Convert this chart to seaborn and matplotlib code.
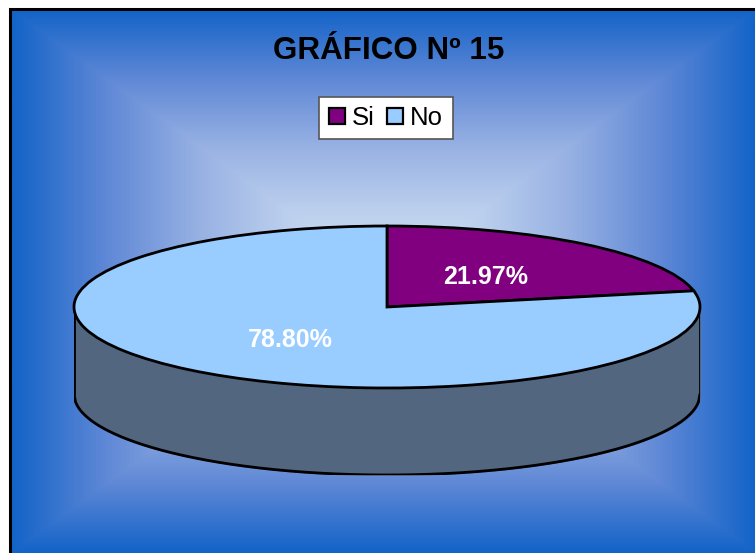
import matplotlib
matplotlib.use('Agg')
import matplotlib.pyplot as plt
import numpy as np
import seaborn as sns
from matplotlib.colors import LinearSegmentedColormap

# Data
labels = ['Si', 'No']
values = [21.97, 78.80]
pct_labels = ['21.97%', '78.80%']
colors = ['#800080', '#99CCFF']
title = 'GRÁFICO Nº 15'

W, H = 755, 553
sns.set_theme(style='white')
plt.rcParams['font.family'] = ['Liberation Sans', 'DejaVu Sans']

fig = plt.figure(figsize=(W / 100, H / 100), dpi=100, facecolor='white')

# Background with a rectangular gradient, pixel coordinates
bg = fig.add_axes([0, 0, 1, 1])
bg.set_xlim(0, W)
bg.set_ylim(H, 0)
bg.axis('off')
xx, yy = np.meshgrid(np.arange(11, W + 1), np.arange(10, H + 1))
t = np.maximum(np.abs(xx - 384) / 371, np.abs(yy - 281) / 271)
cmap = LinearSegmentedColormap.from_list(
    'back', sns.blend_palette(['#CFE0F4', '#BDD1EE', '#97B1E3', '#5F88D6', '#1464C8'], 256))
bg.imshow(t, extent=(11, W, H, 10), cmap=cmap, vmin=0, vmax=1, aspect='auto', zorder=0)
bg.plot([10, 10, W], [H, 9, 9], color='black', lw=2.2, zorder=1, solid_joinstyle='miter')
bg.set_xlim(0, W)
bg.set_ylim(H, 0)

bg.text(389, 51, title, ha='center', va='center', fontsize=22.6, fontweight='bold', color='black')

# Pie axes, top face maps to unit circle squashed into an ellipse
left, right, top, bottom, depth = 74, 700, 226, 388, 87
ax = fig.add_axes([left / W, 1 - (bottom + depth) / H, (right - left) / W, (bottom + depth - top) / H])
ax.patch.set_alpha(0)
wedges, _ = ax.pie(values, colors=colors, startangle=90, counterclock=False, radius=1,
                   wedgeprops={'edgecolor': 'black', 'linewidth': 2.0})
unit_depth = depth / ((bottom - top) / 2)
x = np.linspace(-1, 1, 400)
lower = -np.sqrt(1 - x ** 2)
ax.fill_between(x, lower, lower - unit_depth, color='#526680', zorder=0.5)
ax.plot(x, lower - unit_depth, color='black', lw=2.0, zorder=0.6)
ax.plot([-1, -1], [0, -unit_depth], color='black', lw=2.0, zorder=0.6)
ax.plot([1, 1], [0, -unit_depth], color='black', lw=2.0, zorder=0.6)
ax.set_aspect('auto')
ax.set_xlim(-1, 1)
ax.set_ylim(-1 - unit_depth, 1)
for sp in ax.spines.values():
    sp.set_visible(False)

bg.set_zorder(0)
ax.set_zorder(1)

# Percent labels
label_pos = [(486, 277), (290, 340)]
txt_ax = fig.add_axes([0, 0, 1, 1], zorder=2)
txt_ax.set_xlim(0, W)
txt_ax.set_ylim(H, 0)
txt_ax.axis('off')
for (px, py), s in zip(label_pos, pct_labels):
    txt_ax.text(px, py, s, ha='center', va='center', fontsize=18, fontweight='bold', color='white')

# Legend
leg = fig.legend(wedges, labels, loc='center', bbox_to_anchor=(386 / W, 1 - 118 / H), ncol=2,
                 fontsize=18.5, frameon=True, fancybox=False, framealpha=1, facecolor='white',
                 edgecolor='#555555', handlelength=0.62, handleheight=0.62, handletextpad=0.3,
                 columnspacing=0.45, borderpad=0.36, borderaxespad=0, labelcolor='black')
leg.get_frame().set_linewidth(1.2)
leg.set_zorder(5)
for h in leg.get_patches():
    h.set_linewidth(1.6)

fig.savefig('out.png', dpi=100)
